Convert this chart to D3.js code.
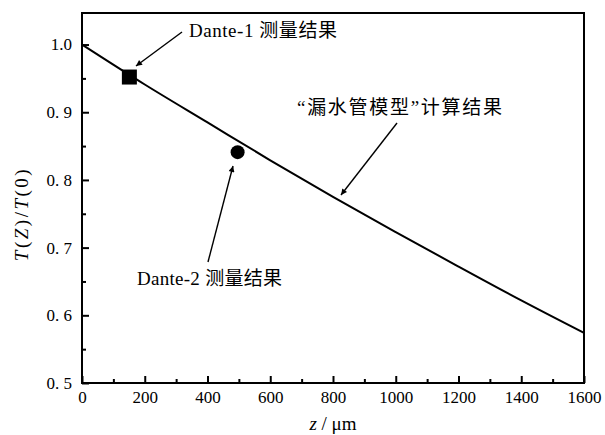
<!DOCTYPE html>
<html>
<head>
<meta charset="utf-8">
<script src="https://cdn.jsdelivr.net/npm/d3@7"></script>
<style>
  body { margin: 0; background: #fff; }
  svg text { font-family: "Liberation Serif", "DejaVu Serif", serif; fill: #000; }
  .cjk { font-family: "Liberation Serif", "Noto Sans CJK SC", serif; }
</style>
</head>
<body>
<div id="root"></div>
<script>
// calculated curve ("漏水管模型")
const curveZ = [0, 200, 400, 600, 800, 1000, 1200, 1400, 1600];
const curveT = [1.0, 0.941, 0.885, 0.829, 0.775, 0.723, 0.672, 0.622, 0.574];
// measured points
const dante1 = [151, 0.952];
const dante2 = [496, 0.841];
const xTicks = [0, 200, 400, 600, 800, 1000, 1200, 1400, 1600];
const xMinor = [100, 300, 500, 700, 900, 1100, 1300, 1500];
const yTicks = [0.5, 0.6, 0.7, 0.8, 0.9, 1.0];
const yTickLabels = ["0.\u00a05", "0.\u00a06", "0.\u00a07", "0.\u00a08", "0.\u00a09", "1.0"];
const yMinor = [0.55, 0.65, 0.75, 0.85, 0.95];

const w = 605, h = 435;
const pLeft = 82, pRight = 584, pTop = 13, pBottom = 383;

const svg = d3.select("#root").append("svg")
  .attr("width", w).attr("height", h);

const xScale = d3.scaleLinear().domain([0, 1600]).range([pLeft, pRight]);
const yScale = d3.scaleLinear().domain([0.5, 1.0466]).range([pBottom, pTop]);

// minor ticks
svg.append("g")
  .attr("transform", "translate(0," + pBottom + ")")
  .call(d3.axisBottom(xScale).tickValues(xMinor).tickSizeInner(-4).tickSizeOuter(0).tickFormat(""))
  .call(g => g.select(".domain").remove())
  .selectAll("line").attr("stroke-width", 2);
svg.append("g")
  .attr("transform", "translate(" + pLeft + ",0)")
  .call(d3.axisLeft(yScale).tickValues(yMinor).tickSizeInner(-4).tickSizeOuter(0).tickFormat(""))
  .call(g => g.select(".domain").remove())
  .selectAll("line").attr("stroke-width", 2);

// major ticks
const xAxis = svg.append("g")
  .attr("transform", "translate(0," + pBottom + ")")
  .call(d3.axisBottom(xScale).tickValues(xTicks).tickSizeInner(-7).tickSizeOuter(0).tickPadding(8)
    .tickFormat(d3.format("d")))
  .call(g => g.select(".domain").remove());
xAxis.selectAll("line").attr("stroke-width", 2);
xAxis.selectAll("text").attr("font-size", 17);

const yAxis = svg.append("g")
  .attr("transform", "translate(" + pLeft + ",0)")
  .call(d3.axisLeft(yScale).tickValues(yTicks).tickSizeInner(-7).tickSizeOuter(0).tickPadding(10)
    .tickFormat((d, i) => yTickLabels[i]))
  .call(g => g.select(".domain").remove());
yAxis.selectAll("line").attr("stroke-width", 2);
yAxis.selectAll("text").attr("font-size", 17);

// frame
svg.append("rect")
  .attr("x", pLeft).attr("y", pTop)
  .attr("width", pRight - pLeft).attr("height", pBottom - pTop)
  .attr("fill", "none").attr("stroke", "#000").attr("stroke-width", 2);

// curve
const line = d3.line()
  .x(d => xScale(d[0]))
  .y(d => yScale(d[1]))
  .curve(d3.curveMonotoneX);
svg.append("path")
  .datum(curveZ.map((z, i) => [z, curveT[i]]))
  .attr("d", line)
  .attr("fill", "none").attr("stroke", "#000").attr("stroke-width", 2);

// measured points
svg.append("rect")
  .attr("x", xScale(dante1[0]) - 7.5).attr("y", yScale(dante1[1]) - 7.5)
  .attr("width", 15).attr("height", 15).attr("fill", "#000");
svg.append("circle")
  .attr("cx", xScale(dante2[0])).attr("cy", yScale(dante2[1]))
  .attr("r", 7).attr("fill", "#000");

// arrow marker
svg.append("defs").append("marker")
  .attr("id", "arr").attr("viewBox", "0 0 10 10")
  .attr("refX", 10).attr("refY", 5)
  .attr("markerWidth", 10).attr("markerHeight", 6)
  .attr("markerUnits", "userSpaceOnUse")
  .attr("orient", "auto")
  .append("path").attr("d", "M0,0 L10,5 L0,10 z").attr("fill", "#000");

const arrows = [
  [182, 32, 136, 66],
  [397, 123, 341, 195],
  [208, 262, 233, 166]
];
svg.selectAll(".arrow").data(arrows).enter().append("line")
  .attr("class", "arrow")
  .attr("x1", d => d[0]).attr("y1", d => d[1])
  .attr("x2", d => d[2]).attr("y2", d => d[3])
  .attr("stroke", "#000").attr("stroke-width", 1.4)
  .attr("marker-end", "url(#arr)");

// annotations
const notes = [
  { x: 189, y: 37, len: 148, t: "Dante-1 测量结果" },
  { x: 297, y: 114, len: 205, t: "“漏水管模型”计算结果" },
  { x: 137, y: 285, len: 145, t: "Dante-2 测量结果" }
];
svg.selectAll(".note").data(notes).enter().append("text")
  .attr("class", "note cjk")
  .attr("x", d => d.x).attr("y", d => d.y)
  .attr("font-size", 19)
  .attr("textLength", d => d.len)
  .attr("lengthAdjust", "spacing")
  .text(d => d.t);

// axis titles
const xt = svg.append("text")
  .attr("x", 333).attr("y", 430).attr("text-anchor", "middle").attr("font-size", 19);
xt.append("tspan").attr("font-style", "italic").text("z");
xt.append("tspan").text("\u00a0/\u00a0μm");

const yt = svg.append("text")
  .attr("transform", "translate(28,214) rotate(-90)")
  .attr("text-anchor", "middle").attr("font-size", 19)
  .attr("letter-spacing", 2.5);
yt.append("tspan").attr("font-style", "italic").text("T");
yt.append("tspan").text("(");
yt.append("tspan").attr("font-style", "italic").text("Z");
yt.append("tspan").text(")/");
yt.append("tspan").attr("font-style", "italic").text("T");
yt.append("tspan").text("(0)");
</script>
</body>
</html>
